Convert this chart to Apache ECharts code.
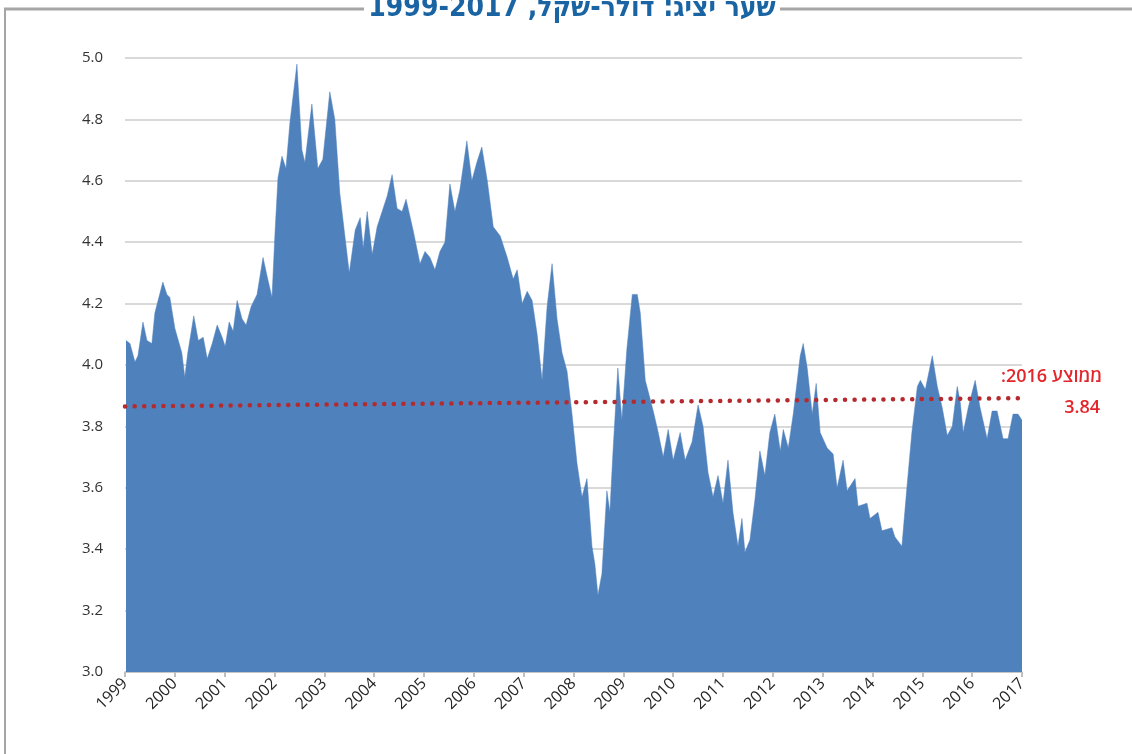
<!DOCTYPE html>
<html>
<head>
<meta charset="utf-8">
<script src="https://cdn.jsdelivr.net/npm/echarts@6/dist/echarts.min.js"></script>
<style>
  html, body { margin: 0; padding: 0; background: #fff; }
  #chart { width: 1132px; height: 754px; }
</style>
</head>
<body>
<div id="chart"></div>
<script>
// decimal years (1999.0 = start of 1999) and USD/ILS representative rate
var years = [
  1999.02, 1999.10, 1999.20, 1999.26, 1999.36, 1999.44, 1999.54, 1999.60, 1999.76, 1999.84, 1999.90,
  2000.00, 2000.14, 2000.20, 2000.26, 2000.38, 2000.47, 2000.57, 2000.65, 2000.75, 2000.85, 2000.95,
  2001.01, 2001.09, 2001.17, 2001.25, 2001.35, 2001.43, 2001.53, 2001.65, 2001.77, 2001.85, 2001.95,
  2002.01, 2002.07, 2002.15, 2002.23, 2002.31, 2002.45, 2002.55, 2002.61, 2002.75, 2002.87, 2002.97,
  2003.11, 2003.21, 2003.31, 2003.42, 2003.50, 2003.62, 2003.72, 2003.78, 2003.86, 2003.96,
  2004.06, 2004.16, 2004.26, 2004.36, 2004.46, 2004.56, 2004.64, 2004.78, 2004.92,
  2005.02, 2005.12, 2005.22, 2005.32, 2005.42, 2005.52, 2005.62, 2005.72, 2005.86, 2005.96,
  2006.06, 2006.16, 2006.27, 2006.39, 2006.53, 2006.67, 2006.79, 2006.87, 2006.97,
  2007.07, 2007.17, 2007.27, 2007.37, 2007.47, 2007.57, 2007.67, 2007.77, 2007.87, 2007.97,
  2008.07, 2008.17, 2008.27, 2008.37, 2008.43, 2008.49, 2008.57, 2008.67, 2008.73, 2008.79, 2008.89, 2008.97,
  2009.07, 2009.18, 2009.28, 2009.34, 2009.44, 2009.60, 2009.70, 2009.80, 2009.90,
  2010.00, 2010.14, 2010.24, 2010.38, 2010.50, 2010.60, 2010.70, 2010.80, 2010.90,
  2011.00, 2011.10, 2011.20, 2011.30, 2011.38, 2011.44, 2011.54, 2011.64, 2011.74, 2011.84, 2011.94,
  2012.04, 2012.15, 2012.21, 2012.31, 2012.41, 2012.55, 2012.61, 2012.69, 2012.79, 2012.87, 2012.95,
  2013.09, 2013.21, 2013.29, 2013.41, 2013.49, 2013.65, 2013.71, 2013.89, 2013.95,
  2014.11, 2014.19, 2014.39, 2014.45, 2014.59, 2014.69, 2014.79, 2014.90, 2014.96,
  2015.06, 2015.20, 2015.30, 2015.40, 2015.50, 2015.60, 2015.70, 2015.76, 2015.82, 2015.92,
  2016.06, 2016.16, 2016.30, 2016.40, 2016.50, 2016.62, 2016.72, 2016.82, 2016.92, 2017.00
];
var rates = [
  4.08, 4.07, 4.01, 4.03, 4.14, 4.08, 4.07, 4.17, 4.27, 4.23, 4.22,
  4.12, 4.04, 3.96, 4.04, 4.16, 4.08, 4.09, 4.02, 4.07, 4.13, 4.09,
  4.06, 4.14, 4.11, 4.21, 4.15, 4.13, 4.19, 4.23, 4.35, 4.29, 4.22,
  4.43, 4.61, 4.68, 4.64, 4.79, 4.98, 4.70, 4.66, 4.85, 4.64, 4.67,
  4.89, 4.80, 4.56, 4.41, 4.30, 4.44, 4.48, 4.38, 4.50, 4.36,
  4.45, 4.50, 4.55, 4.62, 4.51, 4.50, 4.54, 4.44, 4.33,
  4.37, 4.35, 4.31, 4.37, 4.40, 4.59, 4.50, 4.57, 4.73, 4.60,
  4.66, 4.71, 4.60, 4.45, 4.42, 4.35, 4.28, 4.31, 4.20,
  4.24, 4.21, 4.10, 3.95, 4.19, 4.33, 4.15, 4.04, 3.98, 3.84,
  3.68, 3.57, 3.63, 3.41, 3.35, 3.25, 3.32, 3.59, 3.52, 3.71, 3.99, 3.82,
  4.05, 4.23, 4.23, 4.17, 3.95, 3.85, 3.78, 3.70, 3.79,
  3.69, 3.78, 3.69, 3.75, 3.87, 3.80, 3.65, 3.57, 3.64,
  3.55, 3.69, 3.52, 3.41, 3.50, 3.39, 3.43, 3.56, 3.72, 3.64, 3.78,
  3.84, 3.72, 3.79, 3.73, 3.84, 4.03, 4.07, 3.99, 3.84, 3.94, 3.78,
  3.73, 3.71, 3.60, 3.69, 3.59, 3.63, 3.54, 3.55, 3.50,
  3.52, 3.46, 3.47, 3.44, 3.41, 3.60, 3.78, 3.93, 3.95,
  3.92, 4.03, 3.93, 3.86, 3.77, 3.80, 3.93, 3.88, 3.78, 3.86,
  3.95, 3.86, 3.76, 3.85, 3.85, 3.76, 3.76, 3.84, 3.84, 3.82
];
var avgYears = [1999, 2017];
var avgRates = [3.865, 3.892];

var yTicks = { min: 3.0, max: 5.0, step: 0.2 };
var xTicks = { min: 1999, max: 2017, step: 1 };

var titleText = 'שער יציג: דולר-שקל, 1999-2017';
var avgLabel = 'ממוצע 2016:\u200F';
var avgValue = '3.84';

var chart = echarts.init(document.getElementById('chart'));

var option = {
  animation: false,
  backgroundColor: '#ffffff',
  grid: { left: 125, right: 110, top: 58, bottom: 82 },
  xAxis: {
    type: 'value',
    min: xTicks.min,
    max: xTicks.max,
    interval: xTicks.step,
    axisLine: { show: true, lineStyle: { color: '#bfbfbf', width: 1.5 } },
    axisTick: { show: true, length: 5, lineStyle: { color: '#bfbfbf', width: 2 } },
    splitLine: { show: false },
    axisLabel: {
      rotate: 45,
      margin: 9,
      color: '#262626',
      fontFamily: 'Open Sans',
      fontSize: 16,
      formatter: function (v) { return String(v); }
    }
  },
  yAxis: {
    type: 'value',
    min: yTicks.min,
    max: yTicks.max,
    interval: yTicks.step,
    axisLine: { show: false },
    axisTick: { show: false },
    splitLine: { lineStyle: { color: '#d9d9d9', width: 2 } },
    axisLabel: {
      margin: 22,
      color: '#333333',
      fontFamily: 'Open Sans',
      fontSize: 15,
      formatter: function (v) { return v.toFixed(1); }
    }
  },
  series: [
    {
      type: 'line',
      data: years.map(function (y, i) { return [y, rates[i]]; }),
      showSymbol: false,
      lineStyle: { width: 0.5, color: '#4f81bd' },
      areaStyle: { color: '#4f81bd', opacity: 1, origin: 'start' },
      z: 2
    },
    {
      type: 'line',
      data: avgYears.map(function (y, i) { return [y, avgRates[i]]; }),
      showSymbol: false,
      lineStyle: { color: '#b52a2e', width: 4.5, type: [0.1, 9.5], cap: 'round' },
      z: 3
    }
  ],
  graphic: [
    { type: 'line', shape: { x1: 4, y1: 9, x2: 364, y2: 9 }, style: { stroke: '#a6a6a6', lineWidth: 3 } },
    { type: 'line', shape: { x1: 780, y1: 9, x2: 1132, y2: 9 }, style: { stroke: '#a6a6a6', lineWidth: 3 } },
    { type: 'line', shape: { x1: 5, y1: 8, x2: 5, y2: 754 }, style: { stroke: '#a6a6a6', lineWidth: 2 } },
    {
      type: 'text', x: 572, y: 9,
      style: {
        text: titleText, align: 'center', verticalAlign: 'middle',
        font: 'bold 28px "Liberation Sans Narrow", "DejaVu Sans Condensed", sans-serif',
        fill: '#1a64a4'
      }
    },
    {
      type: 'text', x: 1102, y: 377,
      style: {
        text: avgLabel, align: 'right', verticalAlign: 'middle',
        font: '600 18px "Open Sans", sans-serif', fill: '#e3262c'
      }
    },
    {
      type: 'text', x: 1100, y: 408,
      style: {
        text: avgValue, align: 'right', verticalAlign: 'middle',
        font: '600 18px "Open Sans", sans-serif', fill: '#e3262c'
      }
    }
  ]
};

chart.setOption(option);
</script>
</body>
</html>
